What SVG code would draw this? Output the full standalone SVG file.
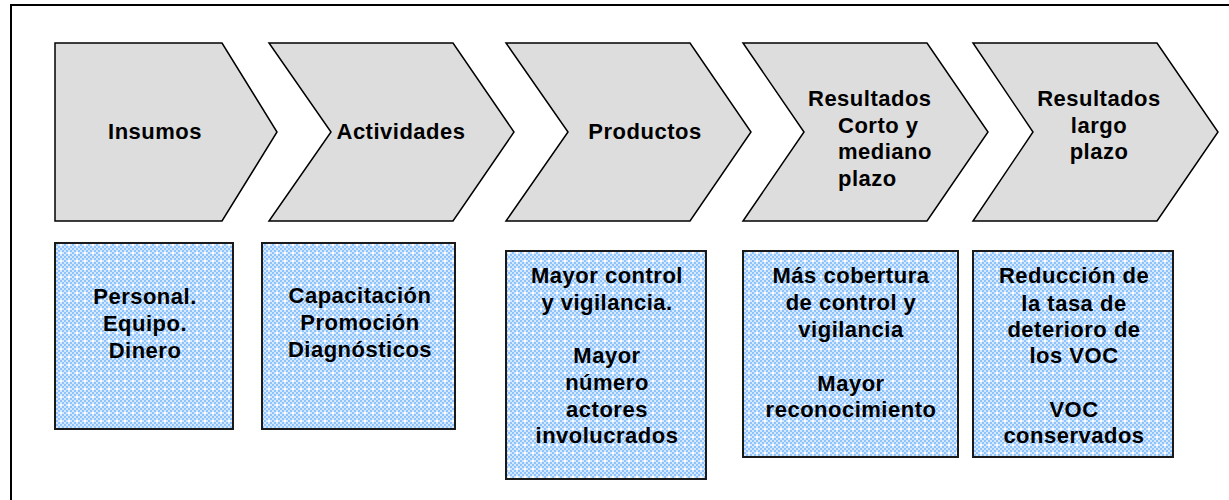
<svg xmlns="http://www.w3.org/2000/svg" width="1229" height="500" viewBox="0 0 1229 500">
<style>
.chev{fill:#dddddd;stroke:#000;stroke-width:1.5;stroke-linejoin:miter}
.box{fill:url(#dots);stroke:#1a1a1a;stroke-width:2}
text{font-family:"Liberation Sans",Arial,sans-serif;font-weight:bold;font-size:22px;letter-spacing:0.5px;fill:#000}
.c{text-anchor:middle}
</style>
<defs>
<pattern id="dots" x="0" y="0" width="8" height="8" patternUnits="userSpaceOnUse">
<rect width="8" height="8" fill="#d6e8fe"/>
<rect x="0" y="0" width="2" height="2" fill="#8fc3fb"/>
<rect x="4" y="0" width="2" height="2" fill="#8fc3fb"/>
<rect x="2" y="2" width="2" height="2" fill="#8fc3fb"/>
<rect x="6" y="2" width="2" height="2" fill="#8fc3fb"/>
<rect x="0" y="4" width="2" height="2" fill="#8fc3fb"/>
<rect x="4" y="4" width="2" height="2" fill="#ffffff"/>
<rect x="2" y="6" width="2" height="2" fill="#8fc3fb"/>
<rect x="6" y="6" width="2" height="2" fill="#8fc3fb"/>
</pattern>
</defs>
<rect x="0" y="0" width="1229" height="500" fill="#ffffff"/>
<rect x="11" y="5" width="1240" height="520" fill="none" stroke="#000" stroke-width="2"/>
<g id="connectors"></g>
<g id="insumos">
<polygon class="chev" points="55,43 222,43 277,132 222,221 55,221"/>
<text class="c" x="155" y="139">Insumos</text>
</g>
<g id="actividades">
<polygon class="chev" points="269,43 453,43 514,132 453,221 269,221 331,132"/>
<text class="c" x="401" y="139">Actividades</text>
</g>
<g id="productos">
<polygon class="chev" points="506,43 690,43 751,132 690,221 506,221 568,132"/>
<text class="c" x="645" y="139">Productos</text>
</g>
<g id="resultados-corto">
<polygon class="chev" points="743,43 927,43 988,132 927,221 743,221 804,132"/>
<text x="808" y="106">Resultados</text>
<text x="838" y="132.7">Corto y</text>
<text x="838" y="159.4">mediano</text>
<text x="838" y="186">plazo</text>
</g>
<g id="resultados-largo">
<polygon class="chev" points="973,43 1157,43 1218,132 1157,221 973,221 1033,132"/>
<text class="c" x="1099" y="106">Resultados</text>
<text class="c" x="1099" y="132.7">largo</text>
<text class="c" x="1099" y="159.4">plazo</text>
</g>
<g id="box-insumos">
<rect class="box" x="55" y="243" width="178" height="186"/>
<text class="c" x="145" y="304">Personal.</text>
<text class="c" x="145" y="331">Equipo.</text>
<text class="c" x="145" y="358">Dinero</text>
</g>
<g id="box-actividades">
<rect class="box" x="262" y="243" width="193" height="186"/>
<text class="c" x="360" y="303">Capacitación</text>
<text class="c" x="360" y="330">Promoción</text>
<text class="c" x="360" y="357">Diagnósticos</text>
</g>
<g id="box-productos">
<rect class="box" x="506" y="251" width="200" height="228"/>
<text class="c" x="607" y="283.3">Mayor control</text>
<text class="c" x="607" y="310">y vigilancia.</text>
<text class="c" x="607" y="363.3">Mayor</text>
<text class="c" x="607" y="390">número</text>
<text class="c" x="607" y="416.7">actores</text>
<text class="c" x="607" y="443.3">involucrados</text>
</g>
<g id="box-resultados-corto">
<rect class="box" x="743" y="251" width="215" height="206"/>
<text class="c" x="851" y="283.3">Más cobertura</text>
<text class="c" x="851" y="310">de control y</text>
<text class="c" x="851" y="336.7">vigilancia</text>
<text class="c" x="851" y="390.5">Mayor</text>
<text class="c" x="851" y="417">reconocimiento</text>
</g>
<g id="box-resultados-largo">
<rect class="box" x="973" y="251" width="200" height="206"/>
<text class="c" x="1074" y="283.3">Reducción de</text>
<text class="c" x="1074" y="310.5">la tasa de</text>
<text class="c" x="1074" y="336.7">deterioro de</text>
<text class="c" x="1074" y="363.3">los VOC</text>
<text class="c" x="1074" y="417">VOC</text>
<text class="c" x="1074" y="443.3">conservados</text>
</g>
</svg>
